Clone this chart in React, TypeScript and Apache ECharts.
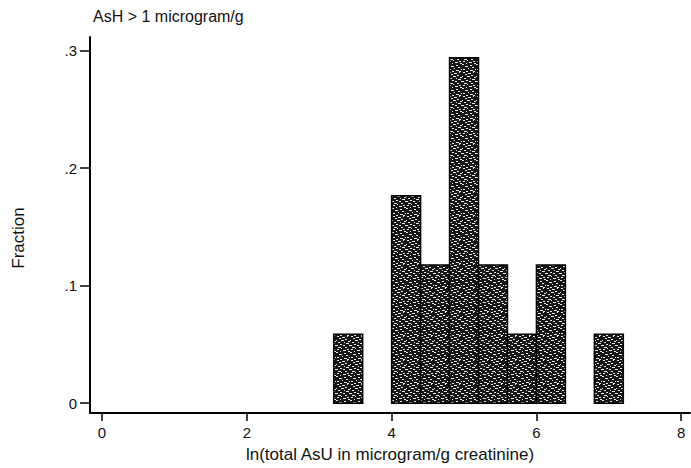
import React, { useEffect, useRef } from "react";
import * as echarts from "echarts";

// Histogram bins of ln(total AsU), width 0.4
const binStarts = [3.2, 4.0, 4.4, 4.8, 5.2, 5.6, 6.0, 6.8];
const binWidth = 0.4;
const fractions = [0.0588, 0.1765, 0.1176, 0.2941, 0.1176, 0.0588, 0.1176, 0.0588];

const xTicks = [0, 2, 4, 6, 8];
const yTicks = [0, 0.1, 0.2, 0.3];

const titleText = "AsH > 1 microgram/g";
const xName = "ln(total AsU in microgram/g creatinine)";
const yName = "Fraction";

const FONT = "Liberation Sans, Arial, Helvetica, sans-serif";

// Speckled halftone tile used as the bar fill
const speckles: [number, number, number][] = [
  [1, 0, 2], [6, 1, 3], [11, 0, 1], [3, 2, 2], [9, 3, 2], [0, 4, 1], [5, 4, 3],
  [12, 5, 2], [2, 6, 2], [8, 6, 1], [10, 7, 3], [4, 8, 2], [0, 9, 2], [7, 9, 2],
  [13, 9, 1], [2, 11, 3], [9, 11, 2], [5, 12, 1], [11, 13, 2], [1, 13, 2], [7, 14, 3],
  [4, 15, 1], [12, 15, 2], [0, 16, 2], [8, 17, 2], [3, 18, 3], [10, 19, 2], [6, 20, 1],
  [13, 21, 1], [1, 21, 2], [8, 22, 3], [4, 23, 2], [11, 23, 2],
];

function makeTile(): HTMLCanvasElement {
  const c = document.createElement("canvas");
  c.width = 14;
  c.height = 24;
  const g = c.getContext("2d")!;
  g.fillStyle = "#161616";
  g.fillRect(0, 0, 14, 24);
  g.fillStyle = "#e8e8e8";
  speckles.forEach(([x, y, w]) => g.fillRect(x, y, w, 1));
  return c;
}

export default function App() {
  const ref = useRef<HTMLDivElement>(null);

  useEffect(() => {
    if (!ref.current) return;
    const chart = echarts.init(ref.current, null, { renderer: "svg" });
    const data = binStarts.map((s, i) => [s, s + binWidth, fractions[i]]);
    const tile = makeTile();

    chart.setOption({
      animation: false,
      backgroundColor: "#ffffff",
      textStyle: { fontFamily: FONT },
      title: {
        text: titleText,
        left: 88,
        top: 3,
        textStyle: { fontFamily: FONT, fontSize: 16, fontWeight: "normal", color: "#111" },
      },
      graphic: [
        {
          type: "text",
          x: 18,
          y: 238,
          rotation: Math.PI / 2,
          style: {
            text: yName,
            font: `17px ${FONT}`,
            fill: "#111",
            align: "center",
            verticalAlign: "middle",
          },
        },
      ],
      grid: { left: 90, top: 37, width: 600, height: 384 },
      xAxis: {
        type: "value",
        min: -0.166,
        max: 8.121,
        name: xName,
        nameLocation: "middle",
        nameGap: 33,
        nameTextStyle: { fontFamily: FONT, fontSize: 17, color: "#111" },
        axisLine: { onZero: false, lineStyle: { color: "#000", width: 2 } },
        axisTick: { show: true, length: 8, customValues: xTicks, lineStyle: { color: "#000", width: 1.5 } },
        axisLabel: {
          customValues: xTicks,
          margin: 12,
          fontFamily: FONT,
          fontSize: 15,
          color: "#111",
        },
        splitLine: { show: false },
      },
      yAxis: {
        type: "value",
        min: -0.00833,
        max: 0.3117,
        axisLine: { onZero: false, lineStyle: { color: "#000", width: 2 } },
        axisTick: { show: true, length: 10, customValues: yTicks, lineStyle: { color: "#000", width: 1.5 } },
        axisLabel: {
          customValues: yTicks,
          margin: 13,
          fontFamily: FONT,
          fontSize: 15,
          color: "#111",
          formatter: (v: number) => (v === 0 ? "0" : String(Number(v.toFixed(1))).replace(/^0/, "")),
        },
        splitLine: { show: false },
      },
      series: [
        {
          type: "custom",
          data,
          encode: { x: [0, 1], y: 2 },
          renderItem: (params: any, api: any) => {
            const p0 = api.coord([api.value(0), 0]);
            const p1 = api.coord([api.value(1), api.value(2)]);
            return {
              type: "rect",
              shape: { x: p0[0], y: p1[1], width: p1[0] - p0[0], height: p0[1] - p1[1] },
              style: {
                fill: { image: tile, repeat: "repeat" },
                stroke: "#000",
                lineWidth: 1.5,
              },
            };
          },
        },
      ],
    });

    return () => chart.dispose();
  }, []);

  return (
    <div
      ref={ref}
      style={{ position: "fixed", left: 0, top: 0, width: 691, height: 468, background: "#fff" }}
    />
  );
}
